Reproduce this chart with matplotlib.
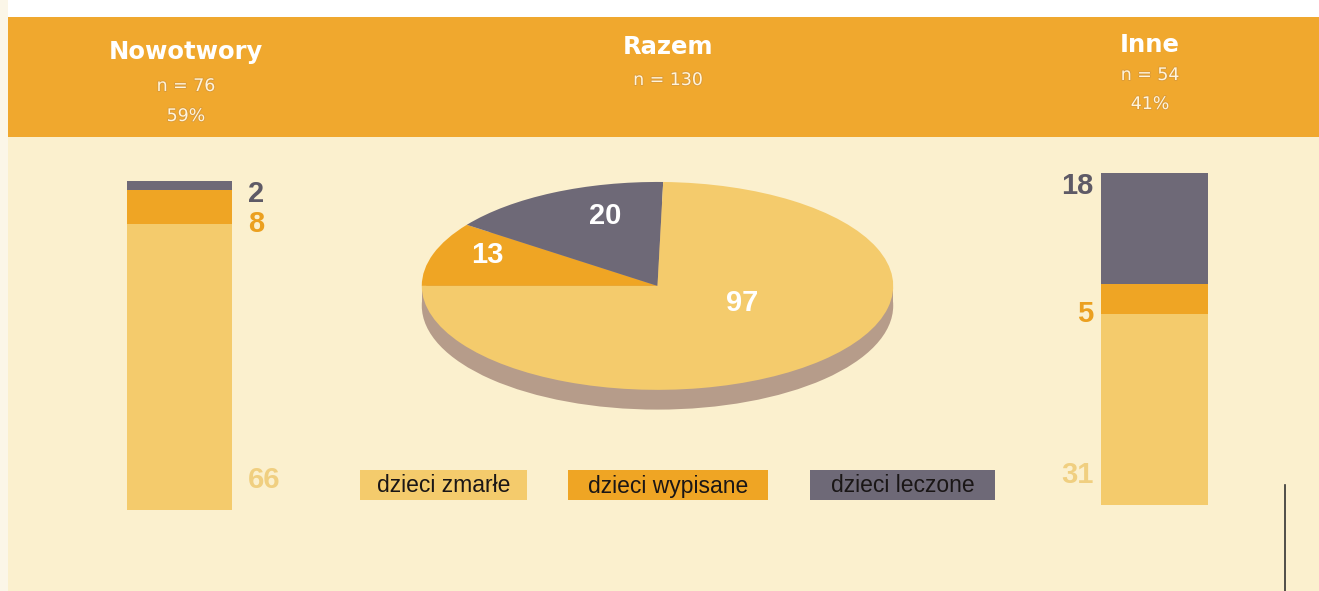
import matplotlib.pyplot as plt
import matplotlib.patches as mpatches
import matplotlib.patheffects as pe

plt.rcParams['font.family'] = ['Liberation Sans', 'DejaVu Sans']

# data
categories = ['dzieci zmarłe', 'dzieci wypisane', 'dzieci leczone']
nowotwory = [66, 8, 2]
razem = [97, 13, 20]
inne = [31, 5, 18]
titles = ['Nowotwory', 'Razem', 'Inne']
counts = ['n = 76', 'n = 130', 'n = 54']
shares = ['59%', '', '41%']

colors = ['#F4CB6C', '#EFA524', '#6E6977']
label_colors = ['#F0CF80', '#EBA020', '#5E5A66']
bg = '#FBF0CE'
band = '#F0A82E'

W, H = 1319, 591
fig = plt.figure(figsize=(W / 100, H / 100), dpi=100)
fig.patch.set_facecolor(bg)


def px_axes(x0, y0, x1, y1):
    return fig.add_axes([x0 / W, 1 - y1 / H, (x1 - x0) / W, (y1 - y0) / H])


# background: white top strip, orange header band
fig.patches.append(mpatches.Rectangle((0, 1 - 17 / H), 1, 17 / H, transform=fig.transFigure,
                                      facecolor='white', edgecolor='none', zorder=0))
fig.patches.append(mpatches.Rectangle((0, 0), 8 / W, 1, transform=fig.transFigure,
                                      facecolor='#FBF6E8', edgecolor='none', zorder=0))
fig.patches.append(mpatches.Rectangle((8 / W, 1 - 137 / H), 1, 120 / H, transform=fig.transFigure,
                                      facecolor=band, edgecolor='none', zorder=0))

# header texts
hx = [186, 668, 1150]
hy = [(52, 86, 116), (47, 80, 0), (45, 75, 104)]
sub_fx = [pe.withStroke(linewidth=1.2, foreground='#D99A3A')]
for t, n, p, x, (y0, y1, y2) in zip(titles, counts, shares, hx, hy):
    fig.text(x / W, 1 - y0 / H, t, ha='center', va='center', color='white',
             fontsize=17.5, fontweight='bold', family='DejaVu Sans')
    fig.text(x / W, 1 - y1 / H, n, ha='center', va='center', color='#FFF4DC',
             fontsize=12.5, family='DejaVu Sans', path_effects=sub_fx)
    if p:
        fig.text(x / W, 1 - y2 / H, p, ha='center', va='center', color='#FFF4DC',
                 fontsize=12.5, family='DejaVu Sans', path_effects=sub_fx)


def stacked_bar(ax, vals, side):
    total = sum(vals)
    bottom = 0
    for v, c in zip(vals, colors):
        ax.bar(0.5, v, width=1, bottom=bottom, color=c, edgecolor='none')
        bottom += v
    ax.set_xlim(0, 1)
    ax.set_ylim(0, total)
    ax.axis('off')
    ys = [total * 0.09, vals[0], total * 0.96]
    for v, y, c in zip(vals, ys, label_colors):
        if side == 'right':
            ax.text(1.15, y, str(v), transform=ax.get_yaxis_transform(), ha='left', va='center',
                    color=c, fontsize=21, fontweight='bold', clip_on=False)
        else:
            ax.text(-0.07, y, str(v), transform=ax.get_yaxis_transform(), ha='right', va='center',
                    color=c, fontsize=21, fontweight='bold', clip_on=False)


ax1 = px_axes(127, 181, 232, 510)
stacked_bar(ax1, nowotwory, 'right')
ax3 = px_axes(1101, 173, 1208, 505)
stacked_bar(ax3, inne, 'left')

# pie, squashed to look tilted, with a darker rim underneath
axp = px_axes(410, 170, 905, 420)
depth = 0.19
rim = '#B69C8A'
axp.add_patch(mpatches.Ellipse((0, -depth), 2, 2, facecolor=rim, edgecolor='none', zorder=0))
axp.add_patch(mpatches.Rectangle((-1, -depth), 2, depth, facecolor=rim, edgecolor='none', zorder=0))
pie_vals = [razem[1], razem[2], razem[0]]
pie_cols = [colors[1], colors[2], colors[0]]
axp.pie(pie_vals, colors=pie_cols, startangle=180, counterclock=False,
        wedgeprops=dict(edgecolor='none'))
axp.set_aspect('auto')
axp.set_xlim(-1.05, 1.05)
axp.set_ylim(-1.29, 1.115)
axp.axis('off')
axp.text(-0.22, 0.67, str(razem[2]), color='white', fontsize=21, fontweight='bold', ha='center', va='center')
axp.text(-0.72, 0.30, str(razem[1]), color='white', fontsize=21, fontweight='bold', ha='center', va='center')
axp.text(0.36, -0.16, str(razem[0]), color='white', fontsize=21, fontweight='bold', ha='center', va='center')

# legend boxes
boxes = [(360, 527), (568, 768), (810, 995)]
for (x0, x1), lab, c in zip(boxes, categories, colors):
    fig.patches.append(mpatches.Rectangle((x0 / W, 1 - 500 / H), (x1 - x0) / W, 30 / H,
                                          transform=fig.transFigure, facecolor=c, edgecolor='none'))
    fig.text((x0 + x1) / 2 / W, 1 - 486 / H, lab, ha='center', va='center', color='#1A1616', fontsize=16.5)

# stray scan mark
fig.add_artist(plt.Line2D([1285 / W, 1285 / W], [0, 1 - 485 / H], transform=fig.transFigure,
                          color='#333333', linewidth=1.2))

fig.savefig('out.png', dpi=100, facecolor=fig.get_facecolor())
